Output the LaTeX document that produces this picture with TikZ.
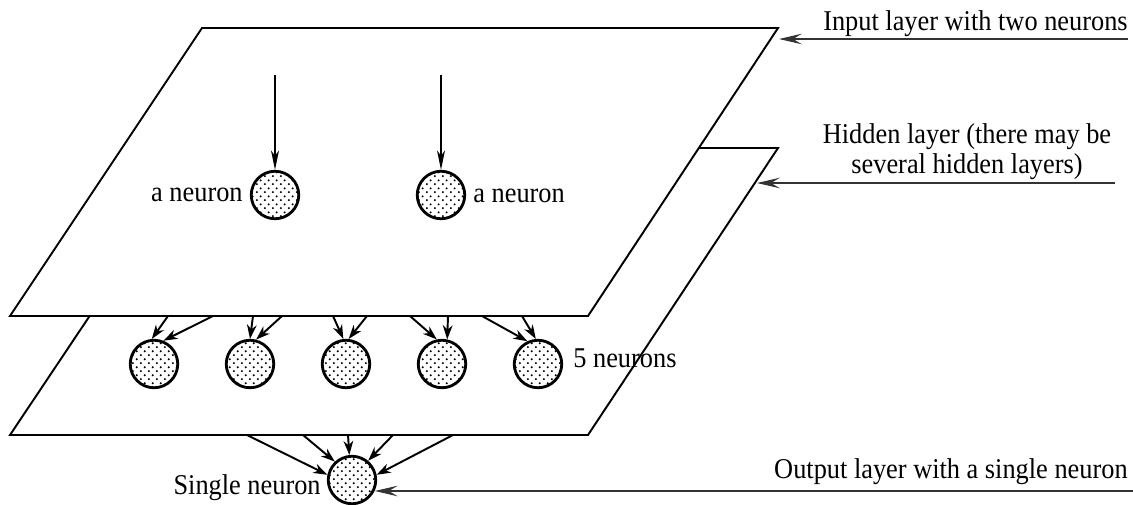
\documentclass[tikz,border=0pt]{standalone}
\usepackage{fontspec}
\setmainfont{Liberation Serif}[FakeStretch=0.92]
\usetikzlibrary{arrows.meta,patterns}

% staggered dot fill for the neurons
\pgfdeclarepatternformonly{sparsedots}{\pgfpointorigin}{\pgfpoint{4.4pt}{4.4pt}}{\pgfpoint{4.4pt}{4.4pt}}{%
  \pgfpathcircle{\pgfpoint{1.1pt}{1.1pt}}{0.65pt}%
  \pgfpathcircle{\pgfpoint{3.3pt}{3.3pt}}{0.65pt}%
  \pgfusepath{fill}}

\begin{document}
\begin{tikzpicture}[x=0.02cm,y=-0.02cm,
  plane/.style={draw, line width=1.1pt, fill=white, line join=miter},
  neuron/.style={circle, draw, line width=1.6pt, minimum size=0.95cm, inner sep=0pt, pattern=sparsedots},
  inflow/.style={-{Stealth[length=11pt,width=4.5pt,inset=3pt]}, line width=0.7pt},
  flow/.style={-{Stealth[length=8pt,width=5.5pt,inset=2.5pt]}, line width=1.1pt},
  callout/.style={-{Stealth[length=13pt,width=6pt,inset=5pt]}, line width=0.6pt, black!80},
  lbl/.style={font=\fontsize{16.3}{18}\selectfont, inner sep=0pt}
]
\useasboundingbox (0,0) rectangle (1133,504);

% the two layer planes (hidden one behind)
\draw[plane] (202,148) -- (778,148) -- (588,435) -- (10,435) -- cycle;
\draw[plane] (202,28) -- (778,28) -- (588,316) -- (10,316) -- cycle;

% input layer
\node[neuron] (in1) at (275,195) {};
\node[neuron] (in2) at (441,195) {};
\coordinate (src1) at (275,75);
\coordinate (src2) at (441,75);
\draw[inflow] (src1) -- (in1);
\draw[inflow] (src2) -- (in2);
\node[lbl, anchor=base east] (la) at (243,201) {a neuron};
\node[lbl, anchor=base west] (lb) at (473,202) {a neuron};

% hidden layer
\foreach \i/\x in {1/154,2/250,3/346,4/442,5/538}
  \node[neuron] (h\i) at (\x,364) {};
\node[lbl, anchor=base west] (l5) at (573,367) {5 neurons};

\foreach \n/\x in {a/168,b/213,c/253,d/282,e/333,f/367,g/410,h/448,i/482,j/522}
  \coordinate (s\n) at (\x,316);
\draw[flow] (sa) -- (h1.95);
\draw[flow] (sb) -- (h1.68);
\draw[flow] (sc) -- (h2.90);
\draw[flow] (sd) -- (h2.76);
\draw[flow] (se) -- (h3.96);
\draw[flow] (sf) -- (h3.84);
\draw[flow] (sg) -- (h4.102);
\draw[flow] (sh) -- (h4.78);
\draw[flow] (si) -- (h5.115);
\draw[flow] (sj) -- (h5.95);

% output layer
\node[neuron] (out) at (352,480) {};
\node[lbl, anchor=base east] (ls) at (321,494) {Single neuron};
\foreach \n/\x in {a/247,b/303,c/348,d/393,e/453}
  \coordinate (t\n) at (\x,435);
\draw[flow] (ta) -- (out.168);
\draw[flow] (tb) -- (out.133);
\draw[flow] (tc) -- (out.96);
\draw[flow] (td) -- (out.50);
\draw[flow] (te) -- (out.12);

% callouts on the right
\coordinate (inEnd) at (1128,39);
\coordinate (inTip) at (779,39);
\draw[callout] (inEnd) -- (inTip);
\node[lbl, anchor=base east] (inLbl) at (1128,30) {Input layer with two neurons};

\coordinate (hidEnd) at (1115,183);
\coordinate (hidTip) at (757,183);
\draw[callout] (hidEnd) -- (hidTip);
\node[lbl, align=center, anchor=base] (hidLbl) at (967,173)
  {Hidden layer (there may be\\[-1pt] several hidden layers)};

\coordinate (outEnd) at (1133,491);
\draw[callout] (outEnd) -- (outEnd -| out.-25);
\node[lbl, anchor=base east] (outLbl) at (1128,478) {Output layer with a single neuron};
\end{tikzpicture}
\end{document}
